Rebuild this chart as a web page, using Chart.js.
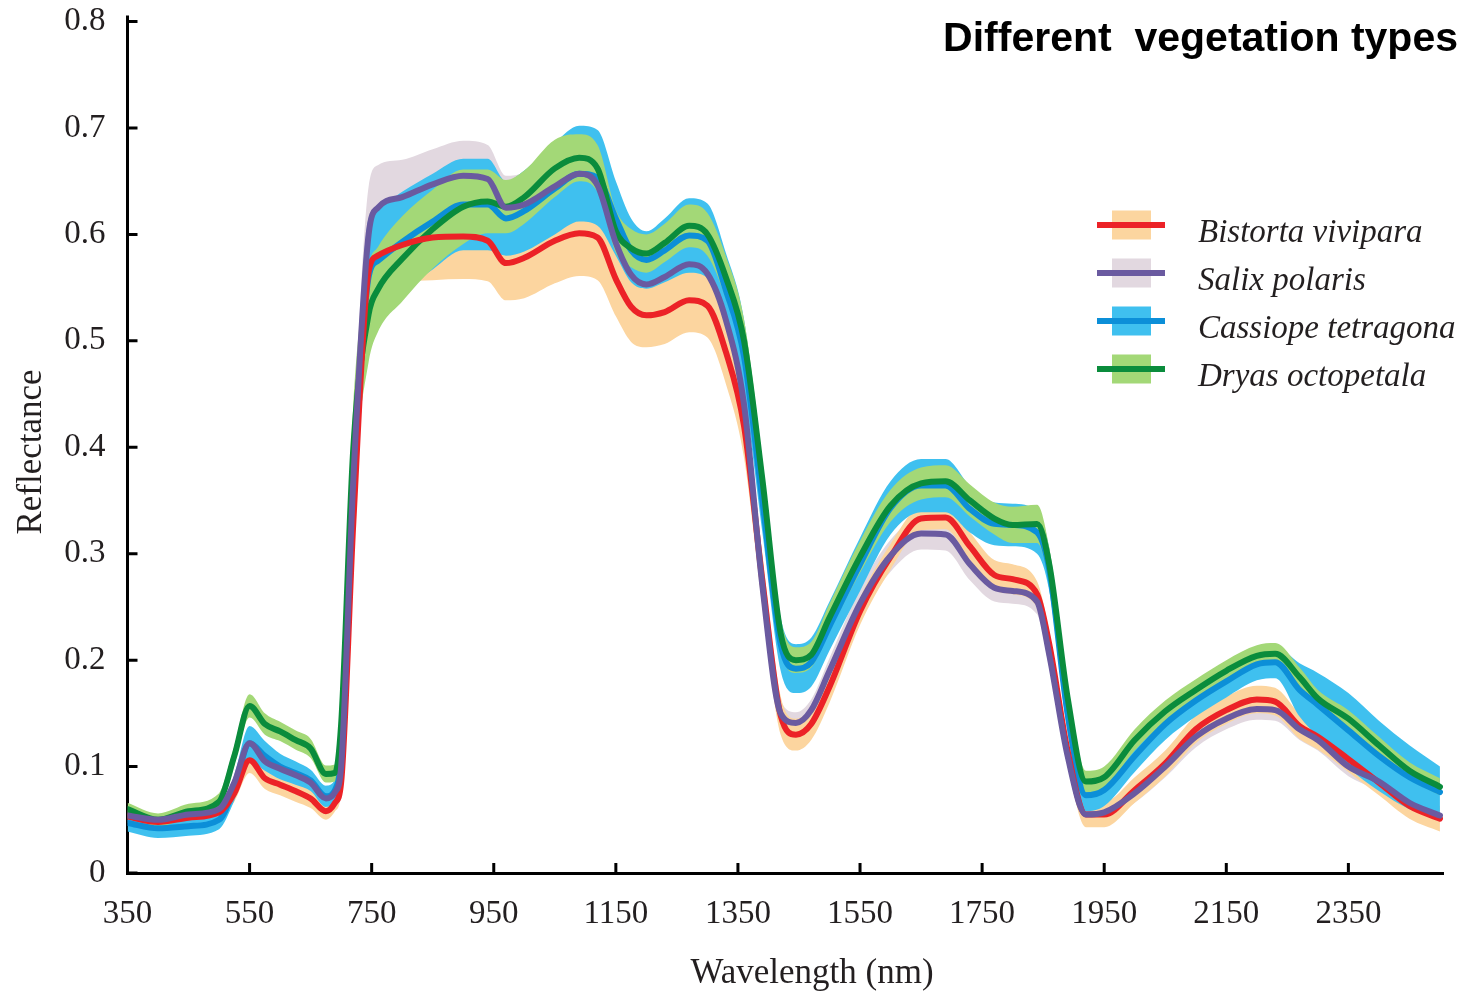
<!DOCTYPE html>
<html lang="en">
<head>
    <meta charset="UTF-8">
    <title>Different vegetation types</title>
    <style>
        html, body { margin: 0; padding: 0; background: #fff; }
        canvas { display: block; }
    </style>
</head>
<body>
    <canvas id="myChart" width="1462" height="1001"></canvas>

    <script src="https://cdn.jsdelivr.net/npm/chart.js"></script>
    <script>
        // wavelengths (nm)
        const wavelengths = [350, 400, 450, 500, 525, 550, 575, 600, 625, 650, 675, 690, 700, 720, 745, 760, 800, 850, 900, 940,
            970, 1000, 1050, 1090, 1120, 1150, 1175, 1200, 1230, 1270, 1300, 1330, 1360, 1390, 1420, 1445, 1470, 1500, 1550, 1600,
            1650, 1690, 1730, 1770, 1800, 1840, 1860, 1890, 1920, 1950, 2000, 2050, 2100, 2150, 2200, 2230, 2270, 2300, 2350, 2400,
            2450, 2500];

        const speciesNames = ['Bistorta vivipara', 'Salix polaris', 'Cassiope tetragona', 'Dryas octopetala'];

        // mean reflectance
        const bistortaMean = [0.053, 0.048, 0.052, 0.057, 0.075, 0.106, 0.089, 0.083, 0.077, 0.070, 0.058, 0.066, 0.085, 0.33, 0.565, 0.58, 0.59, 0.597, 0.598, 0.594,
            0.573, 0.578, 0.594, 0.601, 0.597, 0.558, 0.532, 0.524, 0.527, 0.538, 0.533, 0.49, 0.42, 0.275, 0.148, 0.13, 0.14, 0.175, 0.246, 0.297,
            0.333, 0.334, 0.307, 0.28, 0.276, 0.262, 0.215, 0.115, 0.055, 0.055, 0.078, 0.103, 0.135, 0.153, 0.163, 0.161, 0.138, 0.128, 0.107, 0.085,
            0.063, 0.051];
        const salixMean = [0.054, 0.050, 0.055, 0.060, 0.085, 0.122, 0.105, 0.098, 0.092, 0.085, 0.070, 0.076, 0.10, 0.37, 0.60, 0.625, 0.635, 0.647, 0.655, 0.652,
            0.625, 0.628, 0.645, 0.657, 0.646, 0.592, 0.562, 0.553, 0.56, 0.572, 0.563, 0.52, 0.44, 0.27, 0.15, 0.141, 0.153, 0.19, 0.253, 0.298,
            0.319, 0.318, 0.29, 0.268, 0.265, 0.255, 0.205, 0.11, 0.055, 0.057, 0.075, 0.10, 0.128, 0.145, 0.154, 0.153, 0.135, 0.125, 0.10, 0.086,
            0.066, 0.054];
        const cassiopeMean = [0.047, 0.042, 0.044, 0.050, 0.080, 0.122, 0.110, 0.100, 0.094, 0.087, 0.072, 0.078, 0.11, 0.36, 0.56, 0.575, 0.593, 0.612, 0.628, 0.628,
            0.615, 0.622, 0.643, 0.657, 0.653, 0.615, 0.585, 0.576, 0.585, 0.599, 0.594, 0.548, 0.485, 0.35, 0.215, 0.192, 0.198, 0.232, 0.29, 0.343,
            0.364, 0.364, 0.342, 0.328, 0.327, 0.32, 0.285, 0.15, 0.073, 0.078, 0.11, 0.14, 0.162, 0.18, 0.196, 0.198, 0.172, 0.158, 0.134, 0.11,
            0.09, 0.076];
        const dryasMean = [0.060, 0.050, 0.058, 0.067, 0.110, 0.157, 0.140, 0.133, 0.125, 0.117, 0.093, 0.094, 0.14, 0.40, 0.525, 0.548, 0.577, 0.605, 0.626, 0.631,
            0.626, 0.635, 0.662, 0.672, 0.662, 0.603, 0.587, 0.582, 0.592, 0.608, 0.60, 0.56, 0.50, 0.37, 0.225, 0.20, 0.205, 0.24, 0.297, 0.345,
            0.366, 0.368, 0.35, 0.333, 0.327, 0.328, 0.29, 0.165, 0.086, 0.09, 0.125, 0.152, 0.172, 0.19, 0.204, 0.206, 0.184, 0.164, 0.145, 0.12,
            0.096, 0.081];

        // half width of the shaded band
        const bistortaSd = [0.006, 0.006, 0.006, 0.006, 0.008, 0.012, 0.010, 0.010, 0.010, 0.009, 0.008, 0.008, 0.010, 0.03, 0.04, 0.035, 0.035, 0.04, 0.04, 0.038,
            0.035, 0.038, 0.04, 0.04, 0.04, 0.035, 0.033, 0.03, 0.03, 0.03, 0.03, 0.03, 0.03, 0.025, 0.018, 0.015, 0.015, 0.015, 0.013, 0.012,
            0.011, 0.011, 0.013, 0.014, 0.014, 0.012, 0.012, 0.012, 0.012, 0.012, 0.012, 0.012, 0.013, 0.013, 0.013, 0.013, 0.012, 0.012, 0.012, 0.012,
            0.012, 0.012];
        const salixSd = [0.005, 0.005, 0.005, 0.005, 0.006, 0.008, 0.007, 0.006, 0.006, 0.006, 0.006, 0.006, 0.010, 0.03, 0.045, 0.04, 0.035, 0.033, 0.033, 0.032,
            0.03, 0.03, 0.03, 0.03, 0.03, 0.028, 0.025, 0.022, 0.022, 0.022, 0.022, 0.022, 0.02, 0.018, 0.012, 0.01, 0.01, 0.012, 0.014, 0.015,
            0.015, 0.015, 0.015, 0.013, 0.012, 0.012, 0.012, 0.01, 0.008, 0.008, 0.009, 0.01, 0.01, 0.01, 0.01, 0.01, 0.01, 0.01, 0.009, 0.009,
            0.009, 0.008];
        const cassiopeSd = [0.008, 0.009, 0.009, 0.009, 0.012, 0.016, 0.014, 0.012, 0.011, 0.010, 0.010, 0.010, 0.015, 0.04, 0.055, 0.05, 0.047, 0.045, 0.043, 0.043,
            0.035, 0.038, 0.043, 0.045, 0.045, 0.035, 0.03, 0.027, 0.03, 0.035, 0.035, 0.035, 0.035, 0.03, 0.025, 0.023, 0.023, 0.023, 0.025, 0.025,
            0.025, 0.025, 0.022, 0.02, 0.02, 0.02, 0.02, 0.018, 0.015, 0.015, 0.015, 0.015, 0.015, 0.015, 0.015, 0.015, 0.025, 0.03, 0.035, 0.033,
            0.03, 0.024];
        const dryasSd = [0.006, 0.006, 0.007, 0.008, 0.009, 0.011, 0.010, 0.009, 0.009, 0.009, 0.008, 0.008, 0.015, 0.04, 0.045, 0.04, 0.04, 0.037, 0.035, 0.03,
            0.025, 0.025, 0.027, 0.022, 0.022, 0.02, 0.018, 0.018, 0.018, 0.02, 0.02, 0.02, 0.02, 0.018, 0.014, 0.012, 0.012, 0.013, 0.015, 0.015,
            0.015, 0.015, 0.015, 0.015, 0.017, 0.018, 0.016, 0.012, 0.01, 0.01, 0.01, 0.01, 0.01, 0.01, 0.01, 0.01, 0.009, 0.008, 0.008, 0.008,
            0.008, 0.008];

        const xTicks = [350, 550, 750, 950, 1150, 1350, 1550, 1750, 1950, 2150, 2350];
        const yTicks = [0, 0.1, 0.2, 0.3, 0.4, 0.5, 0.6, 0.7, 0.8];
        const yTickLabels = ['0', '0.1', '0.2', '0.3', '0.4', '0.5', '0.6', '0.7', '0.8'];

        const lineColors = ['#ec2227', '#6a5aa0', '#0c8fd8', '#0a8c3c'];
        const bandColors = ['#fcd59f', '#e2d8e0', '#3fc0ef', '#a3d877'];
        const bandOrder = [19, 20, 18, 17];   // higher = drawn earlier
        const lineOrder = [2, 1, 4, 3];

        const means = [bistortaMean, salixMean, cassiopeMean, dryasMean];
        const sds = [bistortaSd, salixSd, cassiopeSd, dryasSd];

        const serif = "'Liberation Serif', 'DejaVu Serif', serif";
        const inkColor = '#231f20';

        function pts(arr) {
            return wavelengths.map(function(w, i) { return { x: w, y: arr[i] }; });
        }

        var datasets = [];
        means.forEach(function(mean, s) {
            var lo = mean.map(function(v, i) { return v - sds[s][i]; });
            var hi = mean.map(function(v, i) { return v + sds[s][i]; });
            datasets.push({
                label: speciesNames[s] + ' low',
                data: pts(lo),
                borderWidth: 0,
                fill: false,
                order: bandOrder[s]
            });
            datasets.push({
                label: speciesNames[s] + ' high',
                data: pts(hi),
                borderWidth: 0,
                backgroundColor: bandColors[s],
                fill: '-1',
                order: bandOrder[s]
            });
        });
        means.forEach(function(mean, s) {
            datasets.push({
                label: speciesNames[s],
                data: pts(mean),
                borderColor: lineColors[s],
                borderWidth: 6,
                borderJoinStyle: 'round',
                borderCapStyle: 'round',
                fill: false,
                order: lineOrder[s]
            });
        });

        // inward ticks, titles and legend
        const decorations = {
            id: 'decorations',
            afterDraw: function(chart) {
                var c = chart.ctx;
                var area = chart.chartArea;
                var xs = chart.scales.x, ys = chart.scales.y;
                c.save();
                c.strokeStyle = '#000';
                c.lineWidth = 3;
                c.beginPath();
                xTicks.forEach(function(v) {
                    var px = xs.getPixelForValue(v);
                    c.moveTo(px, area.bottom);
                    c.lineTo(px, area.bottom - 10);
                });
                yTicks.forEach(function(v) {
                    var py = ys.getPixelForValue(v);
                    c.moveTo(area.left, py);
                    c.lineTo(area.left + 10, py);
                });
                c.moveTo(area.left, area.top);
                c.lineTo(area.left, area.top - 6);
                c.stroke();

                c.fillStyle = inkColor;
                c.font = '35px ' + serif;
                c.textAlign = 'center';
                c.textBaseline = 'alphabetic';
                c.fillText('Wavelength (nm)', 812, 983);

                c.save();
                c.translate(41, 452);
                c.rotate(-Math.PI / 2);
                c.fillText('Reflectance', 0, 0);
                c.restore();

                c.fillStyle = '#000';
                c.font = 'bold 41px "Liberation Sans", Arial, sans-serif';
                c.textAlign = 'right';
                c.fillText('Different  vegetation types', 1458, 51);

                c.textAlign = 'left';
                c.font = 'italic 33px ' + serif;
                speciesNames.forEach(function(name, s) {
                    var cy = 225 + s * 48;
                    c.fillStyle = bandColors[s];
                    c.fillRect(1112, cy - 14.5, 39, 29);
                    c.fillStyle = lineColors[s];
                    c.fillRect(1097, cy - 3, 68, 6);
                    c.fillStyle = inkColor;
                    c.fillText(name, 1198, cy + 17);
                });
                c.restore();
            }
        };

        new Chart(document.getElementById('myChart'), {
            type: 'line',
            data: { datasets: datasets },
            plugins: [decorations],
            options: {
                responsive: false,
                animation: false,
                layout: { padding: { top: 21.5, right: 19, left: 0, bottom: 0 } },
                elements: {
                    point: { radius: 0 },
                    line: { cubicInterpolationMode: 'monotone' }
                },
                plugins: {
                    legend: { display: false },
                    tooltip: { enabled: false }
                },
                scales: {
                    x: {
                        type: 'linear',
                        min: 350,
                        max: 2505,
                        grid: { display: false },
                        border: { display: true, color: '#000', width: 3 },
                        ticks: {
                            color: inkColor,
                            font: { family: serif, size: 33 },
                            padding: 14,
                            maxRotation: 0,
                            callback: function(v) { return String(v); }
                        },
                        afterBuildTicks: function(axis) {
                            axis.ticks = xTicks.map(function(v) { return { value: v }; });
                        },
                        afterFit: function(axis) {
                            axis.height = 128;
                            axis.paddingLeft = 0;
                            axis.paddingRight = 0;
                        }
                    },
                    y: {
                        min: 0,
                        max: 0.8,
                        grid: { display: false },
                        border: { display: true, color: '#000', width: 3 },
                        ticks: {
                            color: inkColor,
                            font: { family: serif, size: 33 },
                            padding: 14,
                            callback: function(v, i) { return yTickLabels[i]; }
                        },
                        afterBuildTicks: function(axis) {
                            axis.ticks = yTicks.map(function(v) { return { value: v }; });
                        },
                        afterFit: function(axis) {
                            axis.width = 127.5;
                            axis.paddingTop = 0;
                            axis.paddingBottom = 0;
                        }
                    }
                }
            }
        });
    </script>
</body>
</html>
